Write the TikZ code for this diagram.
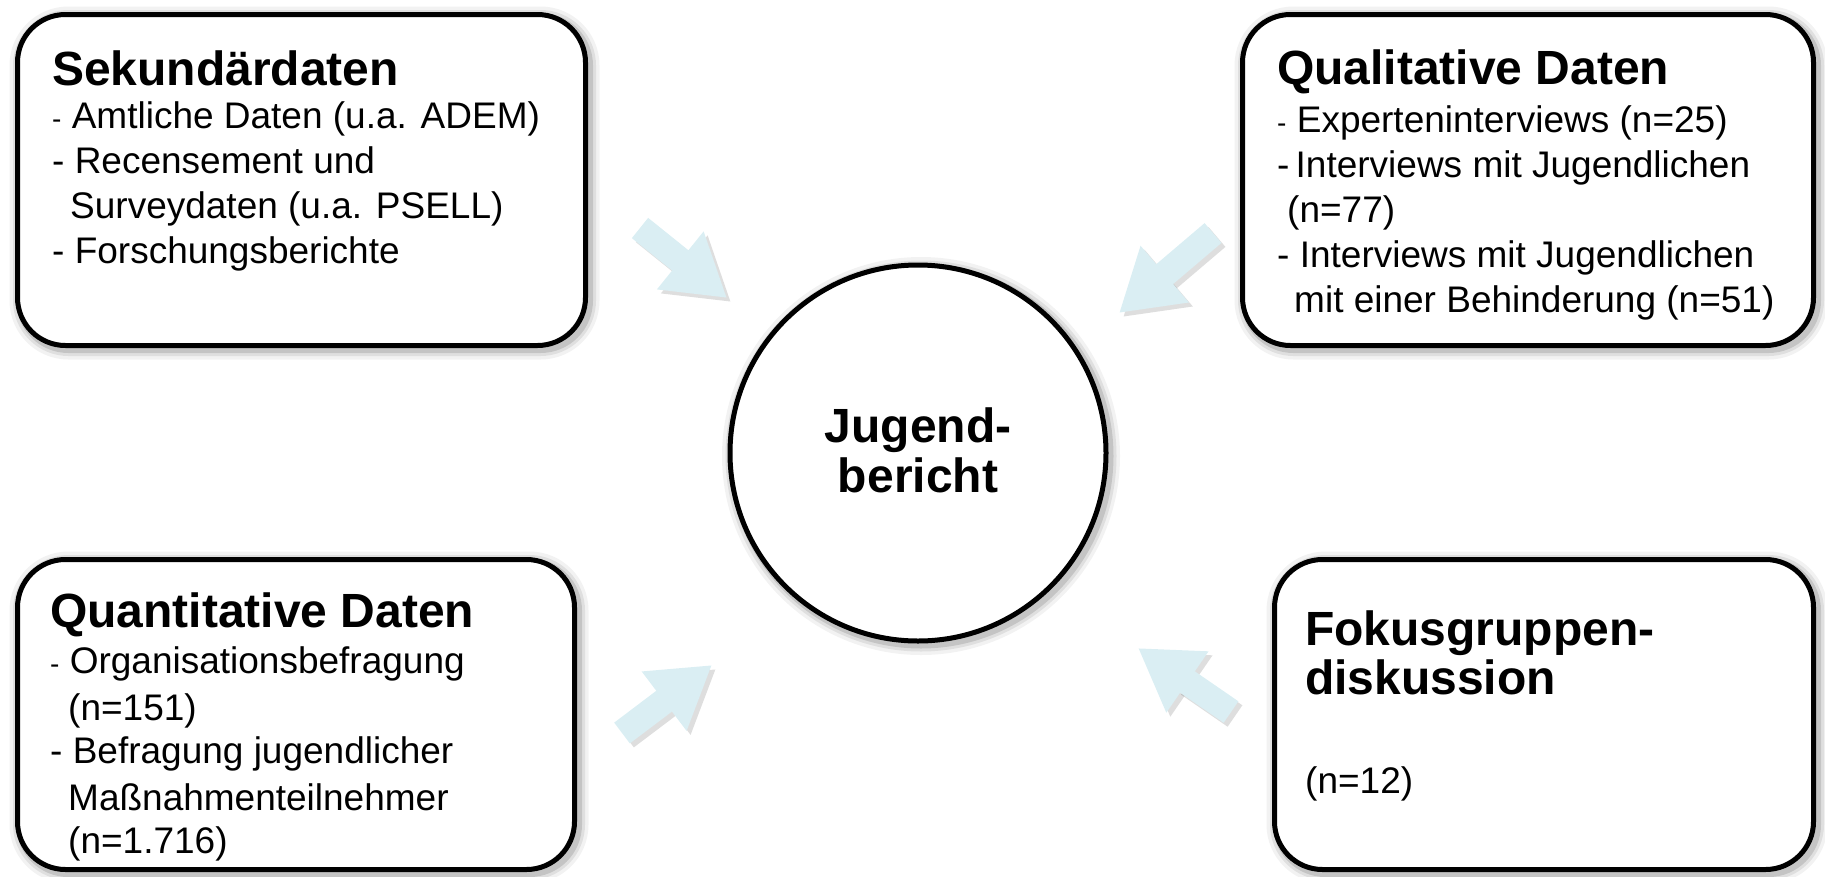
\documentclass[tikz,border=0pt]{standalone}
\usepackage{fontspec}
\setmainfont{Liberation Sans}
\usetikzlibrary{arrows.meta}
\definecolor{arrowblue}{HTML}{DAEEF3}
\newcommand{\smalldash}{{\fontsize{28pt}{30pt}\selectfont -}}
\begin{document}
\begin{tikzpicture}[x=1pt,y=-1pt,
  halo/.style={
    preaction={draw=black, draw opacity=0.05, line width=22pt, transform canvas={xshift=3pt,yshift=-3pt}},
    preaction={draw=black, draw opacity=0.08, line width=15pt, transform canvas={xshift=3pt,yshift=-3pt}},
    preaction={draw=black, draw opacity=0.12, line width=9pt, transform canvas={xshift=3pt,yshift=-3pt}}},
  databox/.style={halo, draw=black, line width=5pt, fill=white, rounded corners=48pt, inner sep=0pt},
  hub/.style={halo, circle, draw=black, line width=5pt, fill=white, inner sep=0pt, minimum size=376pt},
  body/.style={anchor=base west, inner sep=0pt, font=\fontsize{37pt}{45pt}\selectfont},
  head/.style={anchor=base west, inner sep=0pt, font=\bfseries\fontsize{48pt}{56pt}\selectfont},
  hubtext/.style={anchor=base, inner sep=0pt, font=\bfseries\fontsize{48pt}{56pt}\selectfont},
  flow/.style={line width=26pt, draw=arrowblue, -{Triangle[width=70pt,length=60pt]}},
  flowshadow/.style={line width=26pt, draw=black, opacity=0.13, -{Triangle[width=70pt,length=60pt]}, transform canvas={xshift=4pt,yshift=-4pt}}
]
\useasboundingbox (0,0) rectangle (1825,876);

% boxes
\node[databox, minimum width=568pt, minimum height=331pt] (b1) at (301.5,180) {};
\node[databox, minimum width=571pt, minimum height=331pt] (b2) at (1528,180) {};
\node[databox, minimum width=557pt, minimum height=310pt] (b3) at (296,714.5) {};
\node[databox, minimum width=539pt, minimum height=310pt] (b4) at (1544,714.5) {};
\node[hub] (c) at (918,453) {};

% arrows
\coordinate (a1t) at (640,228);  \coordinate (a1h) at (727,298);
\coordinate (a2t) at (1213,233); \coordinate (a2h) at (1119,313);
\coordinate (a3t) at (622,733);  \coordinate (a3h) at (712,665);
\coordinate (a4t) at (1231,712); \coordinate (a4h) at (1138,648);
\foreach \t/\h in {a1t/a1h,a2t/a2h,a3t/a3h,a4t/a4h}{
  \draw[flowshadow] (\t) -- (\h);
  \draw[flow] (\t) -- (\h);
}

% box 1
\node[head] (s0) at (52,85) {Sekundärdaten};
\node[body] (s1) at (52,128) {\smalldash{} Amtliche Daten (u.a. ADEM)};
\node[body] (s2) at (52,173) {- Recensement und};
\node[body] (s3) at (70,218) {Surveydaten (u.a. PSELL)};
\node[body] (s4) at (52,263) {- Forschungsberichte};

% box 2
\node[head] (q0) at (1277,84) {Qualitative Daten};
\node[body] (q1) at (1277,132) {\smalldash{} Experteninterviews (n=25)};
\node[body] (q2) at (1277,177) {-\,Interviews mit Jugendlichen};
\node[body] (q3) at (1287,222) {(n=77)};
\node[body] (q4) at (1277,267) {- Interviews mit Jugendlichen};
\node[body] (q5) at (1294,312) {mit einer Behinderung (n=51)};

% box 3
\node[head] (n0) at (50,627) {Quantitative Daten};
\node[body] (n1) at (50,673) {\smalldash{} Organisationsbefragung};
\node[body] (n2) at (68,720) {(n=151)};
\node[body] (n3) at (50,763) {- Befragung jugendlicher};
\node[body] (n4) at (68,810) {Maßnahmenteilnehmer};
\node[body] (n5) at (68,853) {(n=1.716)};

% box 4
\node[head] (f0) at (1305,645) {Fokusgruppen-};
\node[head] (f1) at (1305,694) {diskussion};
\node[body] (f2) at (1305,793) {(n=12)};

% hub text
\node[hubtext] (j1) at (918,442) {Jugend-};
\node[hubtext] (j2) at (918,492) {bericht};
\end{tikzpicture}
\end{document}
